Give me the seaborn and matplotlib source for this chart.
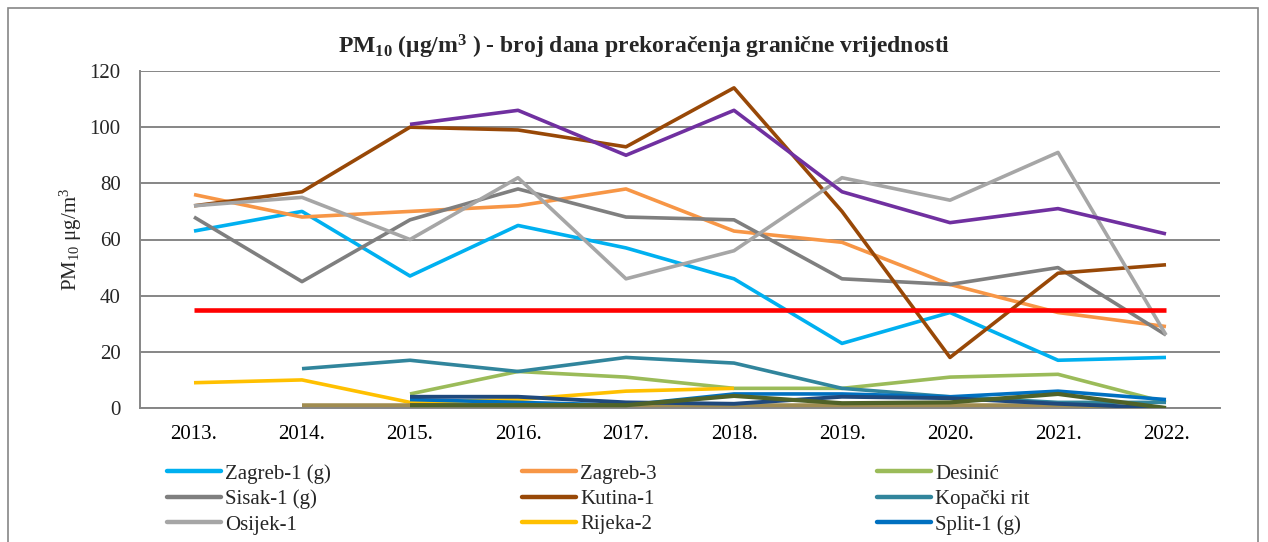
import numpy as np
import pandas as pd
import matplotlib
matplotlib.use("Agg")
import matplotlib.pyplot as plt
import seaborn as sns
from matplotlib.patches import Rectangle

years = ["2013.", "2014.", "2015.", "2016.", "2017.", "2018.", "2019.", "2020.", "2021.", "2022."]
nan = np.nan
zagreb1 = [63, 70, 47, 65, 57, 46, 23, 34, 17, 18]
zagreb3 = [76, 68, 70, 72, 78, 63, 59, 44, 34, 29]
desinic = [nan, nan, 5, 13, 11, 7, 7, 11, 12, 2]
sisak1 = [68, 45, 67, 78, 68, 67, 46, 44, 50, 26]
kutina1 = [72, 77, 100, 99, 93, 114, 70, 18, 48, 51]
kopacki = [nan, 14, 17, 13, 18, 16, 7, 4, 2, 2]
osijek1 = [72, 75, 60, 82, 46, 56, 82, 74, 91, 26]
rijeka2 = [9, 10, 2, 3, 6, 7, nan, nan, nan, nan]
split1 = [nan, nan, 3, 2, 1, 5, 5, 4, 6, 3]
purple_s = [nan, nan, 101, 106, 90, 106, 77, 66, 71, 62]
tan_s = [nan, 1, 1, 1, 1, 1, 1, 1, 1, 0]
navy_s = [nan, nan, 4, 4, 2, 1.5, 4, 3.5, 1.5, 0]
green_s = [nan, nan, 1, 1, 1, 4.3, 1.7, 2, 5, 0]
limit = [35] * 10

series = [
    ("Zagreb-1 (g)", zagreb1, "#00B0F0", 2.6),
    ("Zagreb-3", zagreb3, "#F79646", 2.6),
    ("Desinić", desinic, "#9BBB59", 2.6),
    ("Sisak-1 (g)", sisak1, "#7F7F7F", 2.6),
    ("Kutina-1", kutina1, "#984807", 2.6),
    ("Kopački rit", kopacki, "#31859C", 2.6),
    ("Osijek-1", osijek1, "#A6A6A6", 2.6),
    ("Rijeka-2", rijeka2, "#FFC000", 2.6),
    ("Split-1 (g)", split1, "#0070C0", 2.6),
    ("_purple", purple_s, "#7030A0", 2.6),
    ("_tan", tan_s, "#A08C50", 2.8),
    ("_navy", navy_s, "#1F497D", 2.8),
    ("_green", green_s, "#4F6228", 3.0),
    ("_limit", limit, "#FF0000", 3.3),
]

df = pd.DataFrame({"year": years})
for name, vals, c, lw in series:
    df[name] = vals

sns.set_theme(style="white")
plt.rcParams["font.family"] = ["Liberation Serif", "DejaVu Serif"]
plt.rcParams["mathtext.fontset"] = "custom"
plt.rcParams["mathtext.rm"] = "Liberation Serif"
plt.rcParams["mathtext.bf"] = "Liberation Serif:bold"
plt.rcParams["mathtext.it"] = "Liberation Serif:italic"

FS = 15

fig = plt.figure(figsize=(12.68, 5.42), dpi=100)
ax = fig.add_axes([140 / 1268, 1 - 408 / 542, (1220 - 140) / 1268, (408 - 71) / 542])

handles = {}
for i, (name, vals, c, lw) in enumerate(series):
    sns.lineplot(data=df, x="year", y=name, color=c, linewidth=lw, ax=ax,
                 label=name, zorder=3 + i, solid_capstyle="butt", sort=False)
    handles[name] = ax.lines[-1]

ax.set_xlim(-0.5, 9.5)
ax.set_ylim(0, 120)
ax.set_yticks(range(0, 121, 20))
ax.set_xticks(range(10))
ax.set_xticklabels(years)
ax.set_xticks(np.arange(-0.5, 10, 1), minor=True)
ax.tick_params(axis="x", which="major", length=0, pad=12, labelsize=FS, colors="black")
ax.tick_params(axis="x", which="minor", length=6, width=1.3, color="#868686", direction="out")
ax.tick_params(axis="y", which="major", length=14, width=1.3, color="#868686", direction="inout",
               labelsize=FS, pad=7)
ax.yaxis.grid(True, color="#868686", linewidth=1.4)
ax.set_axisbelow(True)
for s in ["top", "right"]:
    ax.spines[s].set_visible(False)
for s in ["left", "bottom"]:
    ax.spines[s].set_color("#868686")
    ax.spines[s].set_linewidth(1.4)
ax.set_xlabel("")
ax.set_ylabel(r"PM$_{10}$ μg/m$^{3}$", fontsize=FS)
ax.yaxis.set_label_coords((84 - 140) / 1080, 0.5)

if ax.get_legend() is not None:
    ax.get_legend().remove()

fig.text(644 / 1268, 1 - 47 / 542,
         r"PM$\mathbf{_{10}}$ (μg/m$\mathbf{^{3}}$ ) - broj dana prekoračenja granične vrijednosti",
         ha="center", va="center", fontsize=17, fontweight="bold")

cols = [
    (["Zagreb-1 (g)", "Sisak-1 (g)", "Osijek-1"], 167),
    (["Zagreb-3", "Kutina-1", "Rijeka-2"], 522),
    (["Desinić", "Kopački rit", "Split-1 (g)"], 877),
]
for names, x0 in cols:
    hs = [plt.Line2D([], [], color=handles[n].get_color(), linewidth=3.2) for n in names]
    fig.legend(hs, names, loc="upper left",
               bbox_to_anchor=(x0 / 1268, 1 - 464 / 542),
               frameon=False, fontsize=FS, handlelength=2.6,
               handletextpad=0.2, labelspacing=0.28, borderpad=0, borderaxespad=0)

fig.patches.append(Rectangle((8 / 1268, -0.2), (1258 - 8) / 1268, 1.2 - 8 / 542,
                             transform=fig.transFigure, fill=False,
                             edgecolor="#868686", linewidth=1.2))

fig.savefig("out.png", dpi=100)
